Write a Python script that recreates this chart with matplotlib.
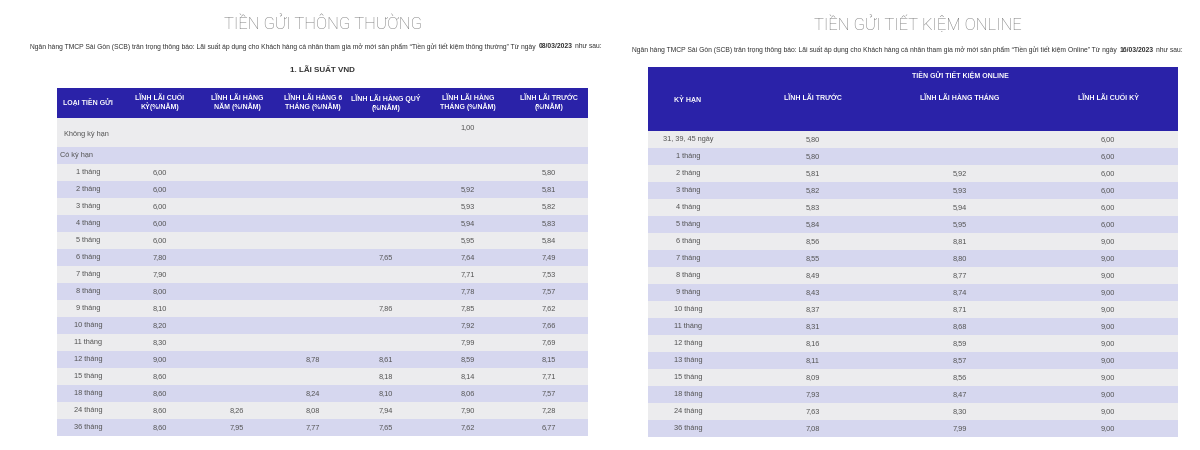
import matplotlib
matplotlib.use("Agg")
import matplotlib.pyplot as plt
from matplotlib.patches import Rectangle

# ---- data: left table (Tiền gửi thông thường) ----
LEFT_HEADERS = ["LOẠI TIỀN GỬI", "LĨNH LÃI CUỐI\nKỲ(%/NĂM)", "LĨNH LÃI HÀNG\nNĂM (%/NĂM)",
                "LĨNH LÃI HÀNG 6\nTHÁNG (%/NĂM)", "LĨNH LÃI HÀNG QUÝ\n(%/NĂM)",
                "LĨNH LÃI HÀNG\nTHÁNG (%/NĂM)", "LĨNH LÃI TRƯỚC\n(%/NĂM)"]
LEFT_TERMS = ["1 tháng", "2 tháng", "3 tháng", "4 tháng", "5 tháng", "6 tháng", "7 tháng",
              "8 tháng", "9 tháng", "10 tháng", "11 tháng", "12 tháng", "15 tháng",
              "18 tháng", "24 tháng", "36 tháng"]
L_CUOI_KY = [6.00, 6.00, 6.00, 6.00, 6.00, 7.80, 7.90, 8.00, 8.10, 8.20, 8.30, 9.00, 8.60, 8.60, 8.60, 8.60]
L_HANG_NAM = [None] * 14 + [8.26, 7.95]
L_HANG_6T = [None] * 11 + [8.78, None, 8.24, 8.08, 7.77]
L_HANG_QUY = [None, None, None, None, None, 7.65, None, None, 7.86, None, None, 8.61, 8.18, 8.10, 7.94, 7.65]
L_HANG_THANG = [None, 5.92, 5.93, 5.94, 5.95, 7.64, 7.71, 7.78, 7.85, 7.92, 7.99, 8.59, 8.14, 8.06, 7.90, 7.62]
L_TRUOC = [5.80, 5.81, 5.82, 5.83, 5.84, 7.49, 7.53, 7.57, 7.62, 7.66, 7.69, 8.15, 7.71, 7.57, 7.28, 6.77]
KHONG_KY_HAN = 1.00  # lĩnh lãi hàng tháng

# ---- data: right table (Tiền gửi tiết kiệm online) ----
RIGHT_HEADERS = ["KỲ HẠN", "LĨNH LÃI TRƯỚC", "LĨNH LÃI HÀNG THÁNG", "LĨNH LÃI CUỐI KỲ"]
RIGHT_TERMS = ["31, 39, 45 ngày", "1 tháng", "2 tháng", "3 tháng", "4 tháng", "5 tháng",
               "6 tháng", "7 tháng", "8 tháng", "9 tháng", "10 tháng", "11 tháng",
               "12 tháng", "13 tháng", "15 tháng", "18 tháng", "24 tháng", "36 tháng"]
R_TRUOC = [5.80, 5.80, 5.81, 5.82, 5.83, 5.84, 8.56, 8.55, 8.49, 8.43, 8.37, 8.31,
           8.16, 8.11, 8.09, 7.93, 7.63, 7.08]
R_HANG_THANG = [None, None, 5.92, 5.93, 5.94, 5.95, 8.81, 8.80, 8.77, 8.74, 8.71, 8.68,
                8.59, 8.57, 8.56, 8.47, 8.30, 7.99]
R_CUOI_KY = [6.00] * 6 + [9.00] * 12

BLUE = "#2a22a8"
GRAY_ROW = "#ececee"
LAV_ROW = "#d6d7ef"
TXT = "#555555"
BODY_FONT = ["Liberation Sans", "DejaVu Sans"]
NARROW_FONT = ["Liberation Sans Narrow", "Liberation Sans", "DejaVu Sans"]
FS = 5.3


def fmt(v):
    return "" if v is None else f"{v:.2f}".replace(".", ",")


def runs_text(ax, x0, y, runs, size):
    """Chain text pieces (text, weight) left to right, starting at x0."""
    prev = ax.text(x0, y, runs[0][0], fontsize=size, fontweight=runs[0][1], color="#333333",
                   family="Liberation Sans", va="center", ha="left")
    for s, w in runs[1:]:
        prev = ax.annotate(s, xy=(1, 0.5), xycoords=prev, xytext=(2.0, 0),
                           textcoords="offset points", fontsize=size, fontweight=w,
                           color="#333333", family="Liberation Sans", va="center", ha="left")


fig = plt.figure(figsize=(12, 4.5), dpi=100)
ax = fig.add_axes([0, 0, 1, 1])
ax.set_xlim(0, 1200)
ax.set_ylim(450, 0)
ax.axis("off")

# titles
for xc, title in [(323, "TIỀN GỬI THÔNG THƯỜNG"), (918, "TIỀN GỬI TIẾT KIỆM ONLINE")]:
    ax.text(xc, 24, title, fontsize=12, color="#707070", family=["Roboto", "DejaVu Sans"],
            fontweight="light", ha="center", va="center")

base = ("Ngân hàng TMCP Sài Gòn (SCB) trân trọng thông báo: Lãi suất áp dụng cho Khách hàng "
        "cá nhân tham gia mở mới sản phẩm ")
runs_text(ax, 30, 47, [(base + "“Tiền gửi tiết kiệm thông thường” Từ ngày", "normal"),
                       ("08/03/2023", "bold"), ("như sau:", "normal")], 4.88)
runs_text(ax, 632, 50, [(base + "“Tiền gửi tiết kiệm Online” Từ ngày", "normal"),
                        ("16/03/2023", "bold"), ("như sau:", "normal")], 4.88)
ax.text(322, 71, "1. LÃI SUẤT VND", fontsize=5.8, fontweight="bold", color="#333333",
        family=BODY_FONT, ha="center", va="center")

# ---- left table ----
lx0, lx1 = 57, 588
row_h = 17
lcols = [88, 160, 237, 313, 386, 468, 549]
ax.add_patch(Rectangle((lx0, 88), lx1 - lx0, 30, color=BLUE, lw=0))
for xc, h in zip(lcols, LEFT_HEADERS):
    ax.text(xc, 103, h, fontsize=5, fontweight="bold", color="white",
            family=NARROW_FONT, ha="center", va="center", linespacing=1.0)

ax.add_patch(Rectangle((lx0, 118), lx1 - lx0, 29, color=GRAY_ROW, lw=0))
ax.text(86, 134, "Không kỳ hạn", fontsize=FS, color=TXT, family=BODY_FONT,
        ha="center", va="center")
ax.text(lcols[5], 128, fmt(KHONG_KY_HAN), fontsize=FS, color=TXT, family=BODY_FONT,
        ha="center", va="center")
ax.add_patch(Rectangle((lx0, 147), lx1 - lx0, row_h, color=LAV_ROW, lw=0))
ax.text(77, 155.5, "Có kỳ hạn", fontsize=FS, color=TXT, family=BODY_FONT,
        ha="center", va="center")

left_cols = [L_CUOI_KY, L_HANG_NAM, L_HANG_6T, L_HANG_QUY, L_HANG_THANG, L_TRUOC]
top = 164
for i, term in enumerate(LEFT_TERMS):
    y0 = top + i * row_h
    ax.add_patch(Rectangle((lx0, y0), lx1 - lx0, row_h,
                           color=GRAY_ROW if i % 2 == 0 else LAV_ROW, lw=0))
    yc = y0 + row_h / 2
    ax.text(lcols[0], yc, term, fontsize=FS, color=TXT, family=BODY_FONT, ha="center", va="center")
    for xc, col in zip(lcols[1:], left_cols):
        ax.text(xc, yc, fmt(col[i]), fontsize=FS, color=TXT, family=BODY_FONT,
                ha="center", va="center")

# ---- right table ----
rx0, rx1 = 648, 1178
rcols = [688, 813, 960, 1108]
ax.add_patch(Rectangle((rx0, 67), rx1 - rx0, 64, color=BLUE, lw=0))
ax.text(960, 76, "TIỀN GỬI TIẾT KIỆM ONLINE", fontsize=5, fontweight="bold", color="white",
        family=NARROW_FONT, ha="center", va="center")
for xc, h in zip(rcols, RIGHT_HEADERS):
    ax.text(xc, 99, h, fontsize=5, fontweight="bold", color="white", family=NARROW_FONT,
            ha="center", va="center")

right_cols = [R_TRUOC, R_HANG_THANG, R_CUOI_KY]
top = 131
for i, term in enumerate(RIGHT_TERMS):
    y0 = top + i * row_h
    ax.add_patch(Rectangle((rx0, y0), rx1 - rx0, row_h,
                           color=GRAY_ROW if i % 2 == 0 else LAV_ROW, lw=0))
    yc = y0 + row_h / 2
    ax.text(rcols[0], yc, term, fontsize=FS, color=TXT, family=BODY_FONT, ha="center", va="center")
    for xc, col in zip(rcols[1:], right_cols):
        ax.text(xc, yc, fmt(col[i]), fontsize=FS, color=TXT, family=BODY_FONT,
                ha="center", va="center")

fig.savefig("out.png", dpi=100, facecolor="white")
